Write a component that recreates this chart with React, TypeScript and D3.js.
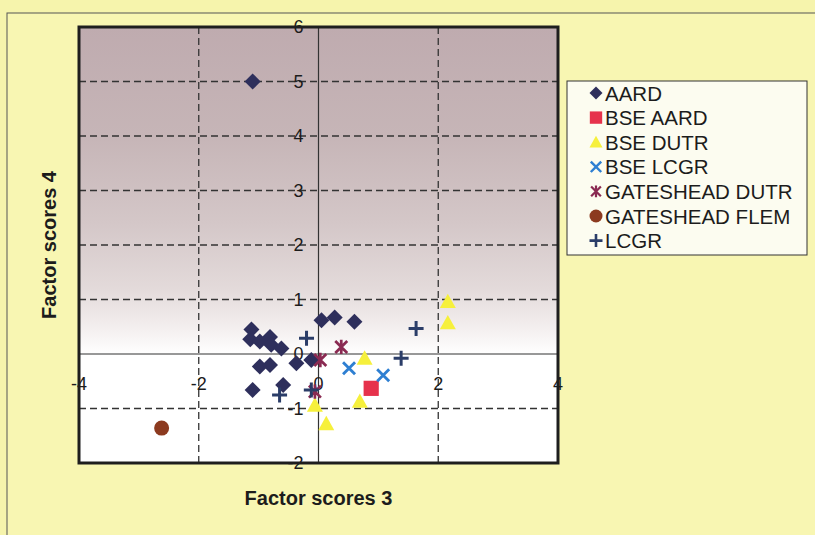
import React from "react";
import * as d3 from "d3";

// Factor score pairs (x = Factor scores 3, y = Factor scores 4) per group
const aardX = [-1.1, -1.12, -1.14, -0.98, -0.81, -0.79, -0.62, -0.98, -0.81, -0.37, -0.12, -1.1, -0.59, 0.05, 0.27, 0.6];
const aardY = [5.0, 0.45, 0.27, 0.23, 0.31, 0.17, 0.1, -0.23, -0.2, -0.17, -0.11, -0.66, -0.57, 0.62, 0.67, 0.59];
const bseAardX = [0.88];
const bseAardY = [-0.63];
const bseDutrX = [2.16, 2.16, 0.77, 0.69, -0.06, 0.13];
const bseDutrY = [0.96, 0.57, -0.08, -0.87, -0.94, -1.28];
const bseLcgrX = [0.51, 1.08];
const bseLcgrY = [-0.26, -0.39];
const gateDutrX = [0.38, 0.03, -0.06];
const gateDutrY = [0.13, -0.11, -0.69];
const gateFlemX = [-2.62];
const gateFlemY = [-1.36];
const lcgrX = [-0.2, -0.65, -0.12, 1.63, 1.38];
const lcgrY = [0.29, -0.75, -0.66, 0.47, -0.08];

const seriesNames = ["AARD", "BSE AARD", "BSE DUTR", "BSE LCGR", "GATESHEAD DUTR", "GATESHEAD FLEM", "LCGR"];
const xTicks = [-4, -2, 0, 2, 4];
const yTicks = [-2, -1, 0, 1, 2, 3, 4, 5, 6];

type Shape = "diamond" | "square" | "triangle" | "x" | "star" | "circle" | "plus";

const series: { name: string; xs: number[]; ys: number[]; shape: Shape; color: string }[] = [
  { name: seriesNames[0], xs: aardX, ys: aardY, shape: "diamond", color: "#2e2f5c" },
  { name: seriesNames[1], xs: bseAardX, ys: bseAardY, shape: "square", color: "#e6324c" },
  { name: seriesNames[2], xs: bseDutrX, ys: bseDutrY, shape: "triangle", color: "#f6f03c" },
  { name: seriesNames[3], xs: bseLcgrX, ys: bseLcgrY, shape: "x", color: "#2e7fd2" },
  { name: seriesNames[4], xs: gateDutrX, ys: gateDutrY, shape: "star", color: "#8a2a52" },
  { name: seriesNames[5], xs: gateFlemX, ys: gateFlemY, shape: "circle", color: "#8c3a1f" },
  { name: seriesNames[6], xs: lcgrX, ys: lcgrY, shape: "plus", color: "#2b3d68" },
];

const W = 815;
const H = 535;
const plot = { left: 79, right: 558, top: 27, bottom: 463 };
const FONT = "'Liberation Sans', Arial, Helvetica, sans-serif";

function Marker({ shape, color, cx, cy, s }: { shape: Shape; color: string; cx: number; cy: number; s: number }) {
  const h = s / 2;
  switch (shape) {
    case "diamond":
      return <path d={`M${cx},${cy - h}L${cx + h},${cy}L${cx},${cy + h}L${cx - h},${cy}Z`} fill={color} />;
    case "square":
      return <rect x={cx - h * 0.95} y={cy - h * 0.95} width={s * 0.95} height={s * 0.95} fill={color} />;
    case "triangle":
      return <path d={`M${cx},${cy - h}L${cx + h},${cy + h * 0.8}L${cx - h},${cy + h * 0.8}Z`} fill={color} />;
    case "circle":
      return <circle cx={cx} cy={cy} r={h} fill={color} />;
    case "x":
      return (
        <path
          d={`M${cx - h * 0.8},${cy - h * 0.8}L${cx + h * 0.8},${cy + h * 0.8}M${cx + h * 0.8},${cy - h * 0.8}L${cx - h * 0.8},${cy + h * 0.8}`}
          stroke={color}
          strokeWidth={s * 0.19}
          fill="none"
        />
      );
    case "star":
      return (
        <path
          d={`M${cx - h * 0.75},${cy - h * 0.75}L${cx + h * 0.75},${cy + h * 0.75}M${cx + h * 0.75},${cy - h * 0.75}L${cx - h * 0.75},${cy + h * 0.75}M${cx},${cy - h * 0.9}L${cx},${cy + h * 0.9}`}
          stroke={color}
          strokeWidth={s * 0.17}
          fill="none"
        />
      );
    case "plus":
      return (
        <path
          d={`M${cx - h},${cy}L${cx + h},${cy}M${cx},${cy - h}L${cx},${cy + h}`}
          stroke={color}
          strokeWidth={s * 0.2}
          fill="none"
        />
      );
  }
}

export default function App() {
  const x = d3.scaleLinear().domain([-4, 4]).range([plot.left, plot.right]);
  const y = d3.scaleLinear().domain([-2, 6]).range([plot.bottom, plot.top]);
  const x0 = x(0);
  const y0 = y(0);
  const sizes: Record<Shape, number> = {
    diamond: 16,
    square: 16,
    triangle: 16,
    x: 15,
    star: 16,
    circle: 15,
    plus: 15,
  };
  const legendX = 567;
  const legendY = 81;
  const rowH = 24.6;

  return (
    <svg
      width={W}
      height={H}
      style={{ position: "absolute", left: 0, top: 0, fontFamily: FONT }}
    >
      <defs>
        <linearGradient id="plotFill" x1="0" y1="0" x2="0" y2="1">
          <stop offset="0" stopColor="#bfabaf" />
          <stop offset="0.25" stopColor="#c6b5b7" />
          <stop offset="0.45" stopColor="#d4c7c8" />
          <stop offset="0.6" stopColor="#e3dada" />
          <stop offset="0.7" stopColor="#f5f1f1" />
          <stop offset="0.75" stopColor="#ffffff" />
          <stop offset="1" stopColor="#ffffff" />
        </linearGradient>
      </defs>
      <rect x={0} y={0} width={W} height={H} fill="#f6f4ac" />
      <rect x={7} y={13} width={W + 20} height={H + 20} fill="#f8f6b2" stroke="#555" strokeWidth={1} />

      {/* plot area */}
      <rect
        x={plot.left}
        y={plot.top}
        width={plot.right - plot.left}
        height={plot.bottom - plot.top}
        fill="url(#plotFill)"
      />

      {/* dashed gridlines */}
      {yTicks
        .filter((t) => t !== 0 && t !== -2 && t !== 6)
        .map((t) => (
          <line
            key={"gy" + t}
            x1={plot.left}
            x2={plot.right}
            y1={y(t)}
            y2={y(t)}
            stroke="#333"
            strokeWidth={1.3}
            strokeDasharray="7,4"
          />
        ))}
      {xTicks
        .filter((t) => t !== 0 && t !== -4 && t !== 4)
        .map((t) => (
          <line
            key={"gx" + t}
            x1={x(t)}
            x2={x(t)}
            y1={plot.top}
            y2={plot.bottom}
            stroke="#333"
            strokeWidth={1.3}
            strokeDasharray="7,4"
          />
        ))}

      {/* axes crossing at zero */}
      <line x1={plot.left} x2={plot.right} y1={y0} y2={y0} stroke="#333" strokeWidth={1.2} />
      <line x1={x0} x2={x0} y1={plot.top} y2={plot.bottom} stroke="#333" strokeWidth={1.2} />

      {/* tick labels */}
      {yTicks.map((t) => (
        <text
          key={"ty" + t}
          x={x0 - 15}
          y={y(t)}
          textAnchor="end"
          dominantBaseline="central"
          fontSize={18}
          fill="#1c1c1c"
        >
          {t}
        </text>
      ))}
      {xTicks.map((t) => (
        <text
          key={"tx" + t}
          x={x(t)}
          y={y0 + 30}
          textAnchor="middle"
          dominantBaseline="central"
          fontSize={18}
          fill="#1c1c1c"
        >
          {t}
        </text>
      ))}

      {/* plot border */}
      <rect
        x={plot.left}
        y={plot.top}
        width={plot.right - plot.left}
        height={plot.bottom - plot.top}
        fill="none"
        stroke="#1e1e1e"
        strokeWidth={3}
      />

      {/* data points */}
      {series.map((s) =>
        s.xs.map((v, i) => (
          <Marker key={s.name + i} shape={s.shape} color={s.color} cx={x(v)} cy={y(s.ys[i])} s={sizes[s.shape]} />
        ))
      )}

      {/* axis titles */}
      <text
        x={(plot.left + plot.right) / 2}
        y={498}
        textAnchor="middle"
        dominantBaseline="central"
        fontSize={20}
        fontWeight="bold"
        fill="#1c1c1c"
      >
        Factor scores 3
      </text>
      <text
        transform={`translate(49,${(plot.top + plot.bottom) / 2}) rotate(-90)`}
        textAnchor="middle"
        dominantBaseline="central"
        fontSize={20}
        fontWeight="bold"
        fill="#1c1c1c"
      >
        Factor scores 4
      </text>

      {/* legend */}
      <rect x={legendX} y={legendY} width={240} height={174} fill="#fcfcf0" stroke="#333" strokeWidth={1} />
      {series.map((s, i) => {
        const cy = legendY + 12 + i * rowH;
        return (
          <g key={"lg" + s.name}>
            <Marker shape={s.shape} color={s.color} cx={596} cy={cy} s={13} />
            <text x={605} y={cy} dominantBaseline="central" fontSize={20.5} fill="#1c1c1c">
              {s.name}
            </text>
          </g>
        );
      })}
    </svg>
  );
}
